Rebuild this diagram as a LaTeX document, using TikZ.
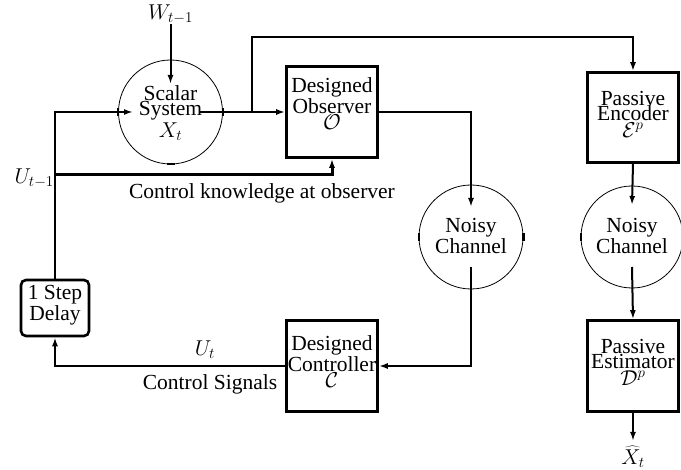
\RequirePackage{fix-cm}
\documentclass[tikz,border=0pt]{standalone}
\usepackage{fontspec}
\setmainfont{Liberation Serif}
\usetikzlibrary{arrows.meta}
\DeclareMathSizes{21.5}{21.5}{15}{11}
\begin{document}
\begin{tikzpicture}[x=1pt,y=-1pt,
  every node/.style={font=\fontsize{21.5}{15.5}\selectfont},
  con/.style={line width=2pt},
  arr/.style={con,-{Latex[length=9pt,width=6pt]}},
  box/.style={draw,line width=2.6pt,minimum width=91pt,minimum height=91pt,inner sep=0pt},
  circ/.style={draw,circle,line width=0.8pt,minimum size=104pt,inner sep=0pt},
  txt/.style={align=center,inner sep=0pt},
  tick/.style={line width=2.2pt}]
\useasboundingbox (0,0) rectangle (681,470);
% circles
\node[circ] (sys) at (170.5,112) {};
\node[txt] (sysT) at (170.5,113) {Scalar\\System\\[1pt]$X_t$};
\node[circ] (ch1) at (471,237) {};
\node[txt] (ch1T) at (471,236) {Noisy\\Channel};
\node[circ,minimum size=102pt] (ch2) at (632,237) {};
\node[txt] (ch2T) at (632,236) {Noisy\\Channel};
% boxes
\node[box] (obs) at (332,112) {};
\node[txt] (obsT) at (332,104) {Designed\\Observer\\[1pt]$\mathcal{O}$};
\node[box] (ctrl) at (332,366) {};
\node[txt] (ctrlT) at (332,362) {Designed\\Controller\\[1pt]$\mathcal{C}$};
\node[box,minimum height=90pt] (enc) at (633,117.5) {};
\node[txt] (encT) at (633,114) {Passive\\Encoder\\[1pt]$\mathcal{E}^p$};
\node[box] (est) at (633,366) {};
\node[txt] (estT) at (633,362) {Passive\\Estimator\\[1pt]$\mathcal{D}^p$};
\node[draw,line width=2.6pt,rounded corners=5pt,minimum width=68pt,minimum height=56pt,inner sep=0pt] (delay) at (55,308) {};
\node[txt] (delayT) at (55,305) {1 Step\\Delay};
% labels
\node[txt] (w) at (170.5,14) {$W_{t-1}$};
\node[txt,anchor=east] (ulab) at (54,178) {$U_{t-1}$};
\node[txt] (know) at (262,193) {Control knowledge at observer};
\node[txt] (ut) at (205,350) {$U_t$};
\node[txt] (sig) at (210,384) {Control Signals};
\node[txt] (xh) at (633,457) {$\widehat{X}_t$};
% coordinates
\coordinate (sysN) at (170.5,84);
\coordinate (sysW) at (133,112);
\coordinate (sysE) at (200,112);
\coordinate (br) at (252,112);
\coordinate (brtop) at (252,37);
\coordinate (kn) at (54.5,175);
\coordinate (ch1N) at (471,207);
\coordinate (ch1S) at (471,267);
\coordinate (ch2N) at (632,205);
\coordinate (ch2S) at (632,267);
\coordinate (xhN) at (633,441);
% connectors
\draw[arr] (w.south) -- (sysN);
\draw[arr] (delay.north) |- (sysW);
\draw[arr] (sysE) -- (obs.west);
\draw[arr] (br) -- (brtop) -| (enc.north);
\draw[arr] (obs.east) -| (ch1N);
\draw[arr] (enc.south) -- (ch2N);
\draw[arr] (ch1S) |- (ctrl.east);
\draw[arr] (ch2S) -- (est.north);
\draw[arr] (est.south) -- (xhN);
\draw[arr] (ctrl.west) -| (delay.south);
\draw[arr,line width=3pt] (kn) -| (obs.south);
% ticks on circles
\draw[tick] ([yshift=-4pt]sys.west) -- ([yshift=4pt]sys.west);
\draw[tick] ([yshift=-4pt]sys.east) -- ([yshift=4pt]sys.east);
\draw[tick] ([xshift=-4pt]sys.south) -- ([xshift=4pt]sys.south);
\draw[tick] ([yshift=-4pt]ch1.west) -- ([yshift=4pt]ch1.west);
\draw[tick] ([yshift=-4pt]ch1.east) -- ([yshift=4pt]ch1.east);
\draw[tick] ([yshift=-4pt]ch2.west) -- ([yshift=4pt]ch2.west);
\draw[tick] ([yshift=-4pt]ch2.east) -- ([yshift=4pt]ch2.east);
\end{tikzpicture}
\end{document}
